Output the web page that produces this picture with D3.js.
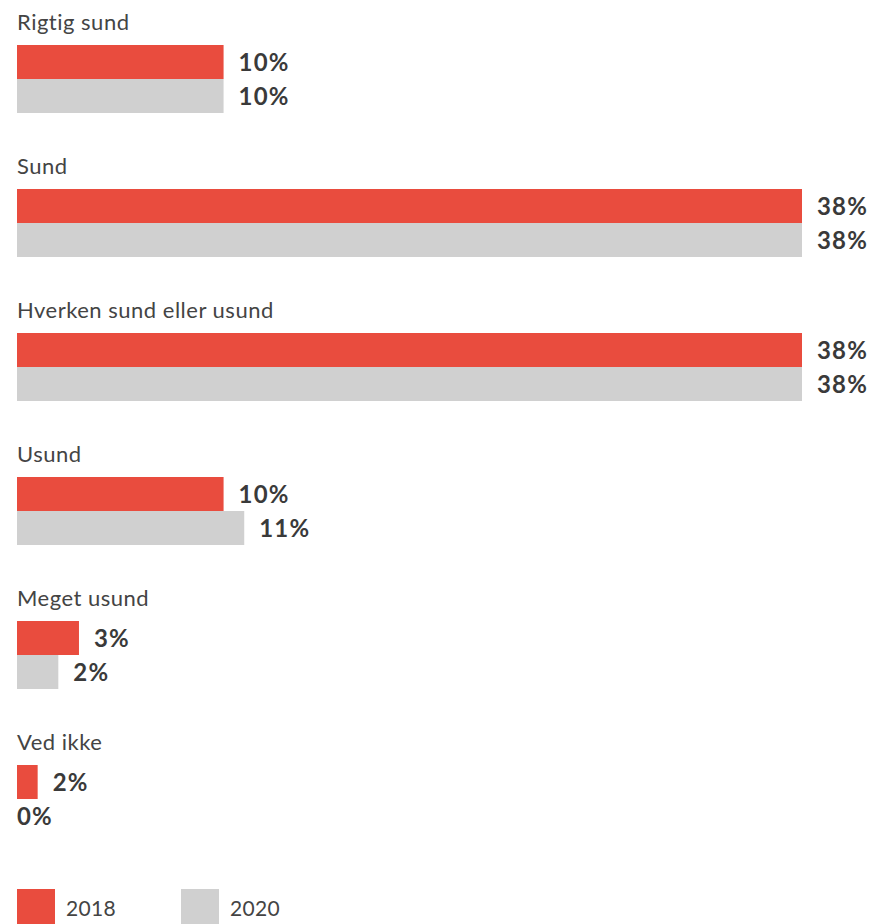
<!DOCTYPE html>
<html>
<head>
<meta charset="utf-8">
<script src="https://cdn.jsdelivr.net/npm/d3@7"></script>
<style>
  body { margin: 0; background: #fff; }
  text { font-family: Lato, "Open Sans", sans-serif; }
</style>
</head>
<body>
<script>
// data
let categories = ["Rigtig sund", "Sund", "Hverken sund eller usund", "Usund", "Meget usund", "Ved ikke"];
let years = ["2018", "2020"];
let values2018 = [10, 38, 38, 10, 3, 1];
let values2020 = [10, 38, 38, 11, 2, 0];
let labels2018 = ["10%", "38%", "38%", "10%", "3%", "2%"];
let labels2020 = ["10%", "38%", "38%", "11%", "2%", "0%"];

let colors = ["#e94c3e", "#d0d0d0"];

let width = 873, height = 924;

let svg = d3.select("body").append("svg")
    .attr("width", width)
    .attr("height", height);

let x = d3.scaleLinear()
    .domain([0, 38])
    .range([17, 802]);

let groupY = d3.scaleBand()
    .domain(categories)
    .range([0, 864]);

let barH = 34;

let rows = categories.map((c, i) => ({
    cat: c,
    bars: [
        { year: years[0], v: values2018[i], label: labels2018[i] },
        { year: years[1], v: values2020[i], label: labels2020[i] }
    ]
}));

let g = svg.selectAll(".group")
    .data(rows)
  .enter().append("g")
    .attr("class", "group")
    .attr("transform", d => "translate(0," + groupY(d.cat) + ")");

// category labels above each pair of bars
g.append("text")
    .attr("x", 17)
    .attr("y", 30)
    .attr("fill", "#444")
    .style("font-size", "22px")
    .style("letter-spacing", "0.5px")
    .text(d => d.cat);

g.selectAll("rect")
    .data(d => d.bars)
  .enter().append("rect")
    .attr("x", x(0))
    .attr("y", (d, j) => 45 + j * barH)
    .attr("width", d => x(d.v) - x(0))
    .attr("height", barH)
    .attr("fill", (d, j) => colors[j]);

g.selectAll(".val")
    .data(d => d.bars)
  .enter().append("text")
    .attr("class", "val")
    .attr("x", d => d.v > 0 ? x(d.v) + 15 : x(0))
    .attr("y", (d, j) => 45 + j * barH + barH / 2)
    .attr("dy", "0.36em")
    .attr("fill", "#3a3a3a")
    .style("font-size", "24px")
    .style("font-weight", "bold")
    .style("letter-spacing", "1.2px")
    .text(d => d.label);

// legend
let legend = svg.selectAll(".legend")
    .data(years)
  .enter().append("g")
    .attr("class", "legend")
    .attr("transform", (d, i) => "translate(" + (17 + i * 164) + ",889)");

legend.append("rect")
    .attr("width", 38)
    .attr("height", 35)
    .attr("fill", (d, i) => colors[i]);

legend.append("text")
    .attr("x", 49)
    .attr("y", 27)
    .attr("fill", "#444")
    .style("font-size", "21px")
    .style("letter-spacing", "0.3px")
    .text(d => d);
</script>
</body>
</html>
